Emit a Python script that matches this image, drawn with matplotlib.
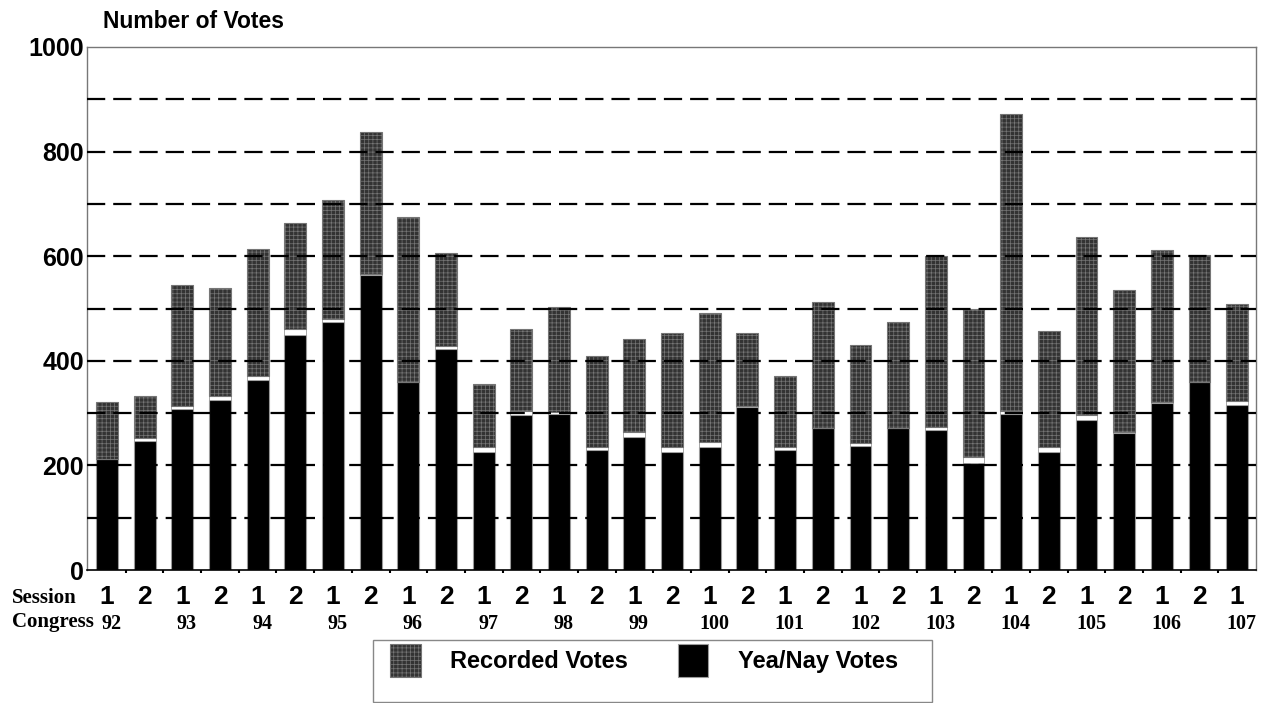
import matplotlib
matplotlib.use("Agg")
import matplotlib.pyplot as plt
import numpy as np
from matplotlib.patches import Patch, Rectangle
from matplotlib.transforms import blended_transform_factory

# one entry per session, 92nd Congress (1st session) .. 107th Congress (1st session)
congresses = list(range(92, 108))
sessions = [1, 2] * 15 + [1]
recorded = [321, 332, 544, 539, 614, 663, 708, 837, 674, 606,
            355, 461, 502, 410, 442, 453, 491, 453, 371, 513,
            431, 475, 600, 500, 871, 457, 636, 535, 612, 602, 509]
yea_nay = [213, 246, 308, 326, 364, 449, 474, 565, 360, 422,
           225, 296, 299, 229, 255, 225, 235, 311, 229, 272,
           238, 272, 267, 205, 299, 225, 286, 261, 320, 359, 315]
# thin white band between the two parts of each bar
gap = [0, 6, 5, 6, 6, 11, 5, 1, 0, 7,
       10, 8, 4, 6, 8, 10, 10, 2, 6, 0,
       5, 0, 6, 12, 5, 10, 10, 3, 1, 0, 8]
y_ticks = [0, 200, 400, 600, 800, 1000]

SANS = "Liberation Sans"
SERIF = "Liberation Serif"
GREY_FACE = "#333333"
HATCH_EDGE = "#767676"
plt.rcParams["hatch.linewidth"] = 0.5

fig = plt.figure(figsize=(12.62, 7.03), dpi=100)
ax = fig.add_axes([87 / 1262, 1 - 570 / 703, (1256 - 87) / 1262, (570 - 47) / 703])

x = np.arange(len(recorded))
yea = np.array(yea_nay)
rec = np.array(recorded)
gp = np.array(gap)
width = 0.58

ax.bar(x, yea, width, color="black", edgecolor="#9a9a9a", linewidth=0.8, zorder=1)
ax.bar(x, gp, width, bottom=yea, color="white", edgecolor="#9a9a9a", linewidth=0.6, zorder=1)
ax.bar(x, rec - yea - gp, width, bottom=yea + gp, color=GREY_FACE,
       edgecolor=HATCH_EDGE, hatch="++++", linewidth=0.8, zorder=1)

# dashed guide lines every 100 votes
for v in range(100, 1000, 100):
    ax.axhline(v, color="black", linewidth=1.6, dashes=(8.2, 3.6), zorder=3)

ax.set_xlim(-0.53, 30.5)
ax.set_ylim(0, 1000)

ax.set_yticks(y_ticks)
ax.set_yticklabels([str(v) for v in y_ticks], fontfamily=SANS, fontweight="bold", fontsize=18)
ax.tick_params(axis="y", length=0, pad=2)

ax.set_xticks(x)
ax.set_xticklabels([str(s) for s in sessions], fontfamily=SANS, fontweight="bold", fontsize=19)
ax.tick_params(axis="x", which="major", length=0, pad=11)
ax.set_xticks(x[:-1] + 0.5, minor=True)
ax.tick_params(axis="x", which="minor", length=2.5, width=1.5, color="black", direction="out")

for side in ["left", "top", "right"]:
    ax.spines[side].set_color("#777777")
    ax.spines[side].set_linewidth(1.0)
ax.spines["bottom"].set_color("black")
ax.spines["bottom"].set_linewidth(1.2)

# congress numbers under the first session of each congress
trans = blended_transform_factory(ax.transData, fig.transFigure)
for i, s in enumerate(sessions):
    if s == 1:
        ax.text(x[i] + 0.12, 1 - 624 / 703, str(congresses[i // 2]), transform=trans,
                ha="center", va="center", fontfamily=SERIF, fontweight="bold", fontsize=14.5)

fig.text(12 / 1262, 1 - 598 / 703, "Session", ha="left", va="center",
         fontfamily=SERIF, fontweight="bold", fontsize=15)
fig.text(12 / 1262, 1 - 622 / 703, "Congress", ha="left", va="center",
         fontfamily=SERIF, fontweight="bold", fontsize=15)
fig.text(103 / 1262, 1 - 21 / 703, "Number of Votes", ha="left", va="center",
         fontfamily=SANS, fontweight="bold", fontsize=16.5)

# legend box
fig.patches.append(Rectangle((373 / 1262, 1 / 703), (932 - 373) / 1262, 62 / 703,
                             transform=fig.transFigure, fill=False,
                             edgecolor="#888888", linewidth=1.0))
handles = [
    Patch(facecolor=GREY_FACE, edgecolor=HATCH_EDGE, hatch="++++", linewidth=0.8, label="Recorded Votes"),
    Patch(facecolor="black", edgecolor="#9a9a9a", linewidth=0.8, label="Yea/Nay Votes"),
]
prop = {"family": SANS, "weight": "bold", "size": 17}
fig.legend(handles=handles, loc="upper left", bbox_to_anchor=(390 / 1262, 1 - 644 / 703),
           ncol=2, frameon=False, prop=prop, borderpad=0, borderaxespad=0,
           handlelength=1.3, handleheight=1.8, handletextpad=1.25, columnspacing=2.1)

fig.savefig("out.png", dpi=100)
